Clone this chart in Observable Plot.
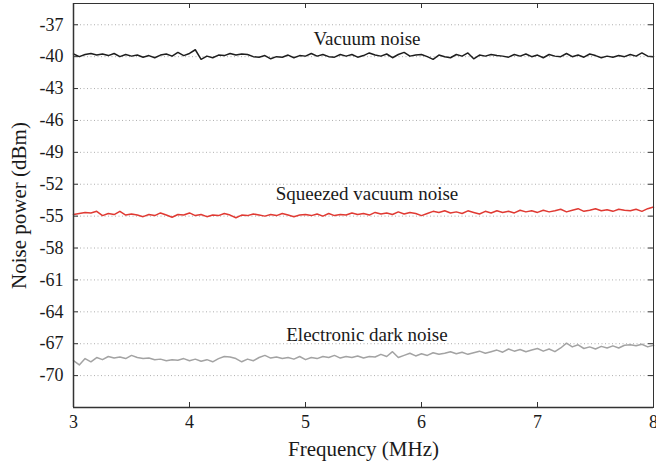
<!DOCTYPE html>
<html>
<head>
<meta charset="utf-8">
<script src="https://cdn.jsdelivr.net/npm/d3@7"></script>
<script src="https://cdn.jsdelivr.net/npm/@observablehq/plot@0.6"></script>
</head>
<body style="margin:0;padding:0;background:#fff">
<div id="chart" style="width:656px;height:468px"></div>
<script>
const freqStart = 3.0;
const freqStep = 0.05;

const vacuumNoise = [
  -39.75, -40.0, -39.8, -39.7, -39.85, -39.75, -39.9, -39.7, -40.0, -39.8,
  -39.95, -39.85, -40.05, -39.9, -40.1, -39.85, -39.75, -39.95, -39.6, -39.9,
  -39.7, -39.35, -40.25, -39.95, -40.1, -39.85, -39.9, -39.7, -39.85, -39.75,
  -39.8, -40.0, -40.05, -39.9, -40.2, -40.0, -40.05, -39.85, -40.1, -39.9,
  -39.95, -39.7, -39.95, -39.8, -40.0, -40.05, -39.8, -39.95, -39.8, -40.05,
  -39.9, -39.65, -39.85, -39.95, -39.75, -40.1, -39.8, -39.6, -39.95, -39.85,
  -39.8, -40.0, -40.25, -39.85, -40.0, -40.1, -39.8, -39.95, -39.65, -40.2,
  -39.85, -39.95, -39.8, -39.9, -39.95, -40.05, -39.8, -39.95, -39.75, -40.0,
  -39.85, -40.1, -39.8, -39.95, -40.0, -39.7, -40.0, -39.85, -40.05, -39.75,
  -39.9, -40.1, -39.95, -40.05, -39.9, -40.0, -39.8, -39.95, -39.65, -39.95,
  -40.0
];

const squeezedNoise = [
  -54.85, -54.75, -54.65, -54.7, -54.55, -54.95, -54.75, -54.85, -54.55, -54.9,
  -54.8, -54.9, -55.05, -54.85, -54.95, -54.7, -54.9, -55.1, -54.85, -54.9,
  -54.7, -54.95, -54.85, -55.05, -54.9, -54.95, -54.75, -54.9, -55.15, -54.9,
  -54.95, -54.8, -54.9, -55.0, -54.85, -54.95, -54.75, -54.9, -55.05, -54.9,
  -54.85, -54.95, -54.8, -55.0, -54.75, -54.95, -54.85, -54.9, -54.7, -54.85,
  -54.75, -54.9, -54.65, -54.8, -54.7, -54.85, -54.6, -54.8, -54.65, -54.75,
  -54.95, -54.75, -54.55, -54.65, -54.5, -54.7, -54.6, -54.75, -54.5, -54.65,
  -54.8, -54.55, -54.7, -54.5, -54.65, -54.55, -54.7, -54.45, -54.6, -54.5,
  -54.65, -54.45, -54.6, -54.5, -54.35, -54.6, -54.45, -54.3, -54.55, -54.45,
  -54.3, -54.5, -54.4, -54.55, -54.35, -54.45, -54.5, -54.35, -54.55, -54.3,
  -54.15
];

const electronicNoise = [
  -68.6, -69.0, -68.4, -68.7, -68.3, -68.5, -68.2, -68.35, -68.25, -68.4,
  -68.1, -68.3, -68.4, -68.35, -68.5, -68.45, -68.6, -68.5, -68.55, -68.4,
  -68.6, -68.45, -68.65, -68.5, -68.7, -68.4, -68.2, -68.25, -68.4, -68.7,
  -68.45, -68.6, -68.3, -68.1, -68.35, -68.25, -68.4, -68.3, -68.45, -68.2,
  -68.5, -68.3, -68.4, -68.2, -68.3, -68.1, -68.35, -68.2, -68.3, -68.15,
  -68.35, -68.2, -68.25, -68.0, -68.2, -67.75, -68.3, -68.1, -67.9, -68.15,
  -67.95, -68.1, -67.85, -68.0, -67.9, -67.75, -67.95, -67.8, -68.0, -67.85,
  -67.7, -67.9, -67.75, -67.6, -67.8, -67.5, -67.7, -67.55, -67.75, -67.6,
  -67.45, -67.7, -67.5, -67.75, -67.4, -66.95, -67.3, -67.1, -67.45, -67.3,
  -67.5, -67.25, -67.4, -67.2, -67.4, -67.15, -67.1, -67.2, -67.05, -67.3,
  -67.15
];

const xTicks = [3, 4, 5, 6, 7, 8];
const yTicks = [-37, -40, -43, -46, -49, -52, -55, -58, -61, -64, -67, -70];

const seriesNames = ["Vacuum noise", "Squeezed vacuum noise", "Electronic dark noise"];
const seriesColors = ["#1e1e1e", "#e03a33", "#a3a3a3"];
const seriesValues = [vacuumNoise, squeezedNoise, electronicNoise];

const labelNames = ["Vacuum noise", "Squeezed vacuum noise", "Electronic dark noise"];
const labelFreq = [5.53, 5.53, 5.53];
const labelPower = [-38.3, -52.9, -66.2];

const rows = seriesValues.flatMap((vals, s) =>
  vals.map((v, i) => ({ series: seriesNames[s], f: freqStart + i * freqStep, p: v }))
);
const labels = labelNames.map((t, i) => ({ text: t, f: labelFreq[i], p: labelPower[i] }));

const W = 656, H = 468;
const mL = 73, mR = 3, mT = 3, mB = 61;
const innerW = W - mL - mR, innerH = H - mT - mB;
const tickLen = 5;
const serif = "Liberation Serif";

const chart = Plot.plot({
  width: W,
  height: H,
  marginLeft: mL,
  marginRight: mR,
  marginTop: mT,
  marginBottom: mB,
  style: { fontFamily: serif, fontSize: "18px", color: "#1a1a1a", background: "#fff", overflow: "visible" },
  x: { domain: [3, 8] },
  y: { domain: [-73, -35] },
  color: { domain: seriesNames, range: seriesColors },
  marks: [
    Plot.gridY(yTicks, { stroke: "#9a9a9a", strokeOpacity: 1, strokeWidth: 0.8, strokeDasharray: "1,2.5" }),
    Plot.line(rows, { x: "f", y: "p", z: "series", stroke: "series", strokeWidth: 1.5, curve: "linear" }),
    Plot.text(labels, { x: "f", y: "p", text: "text", fontSize: 19, fill: "#1a1a1a", fontFamily: serif }),
    Plot.tickY(yTicks, { y: d => d, insetRight: innerW - tickLen, stroke: "#333" }),
    Plot.tickY(yTicks, { y: d => d, insetLeft: innerW - tickLen, stroke: "#333" }),
    Plot.tickX(xTicks, { x: d => d, insetTop: innerH - tickLen, stroke: "#333" }),
    Plot.tickX(xTicks, { x: d => d, insetBottom: innerH - tickLen, stroke: "#333" }),
    Plot.frame({ stroke: "#333", strokeWidth: 1 }),
    Plot.ruleX([3], { stroke: "#333", strokeWidth: 1.5 }),
    Plot.ruleY([-73], { stroke: "#333", strokeWidth: 1.5 }),
    Plot.axisY(yTicks, {
      anchor: "left", tickSize: 0, tickPadding: 10, tickFormat: d => String(d), fontFamily: serif,
      label: "Noise power (dBm)", labelAnchor: "center", labelArrow: "none", labelOffset: 62, fontSize: 18
    }),
    Plot.axisX(xTicks, {
      anchor: "bottom", tickSize: 0, tickPadding: 8, tickFormat: d => String(d), fontFamily: serif,
      label: "Frequency (MHz)", labelAnchor: "center", labelArrow: "none", labelOffset: 48, fontSize: 18
    })
  ]
});

// Force serif everywhere: strip Plot's scoped class and inject an SVG-local style.
chart.removeAttribute("class");
chart.querySelectorAll("style").forEach(s => s.remove());
const ns = "http://www.w3.org/2000/svg";
const st = document.createElementNS(ns, "style");
st.textContent = "text, tspan { font-family: 'Liberation Serif' !important; white-space: pre; }";
chart.insertBefore(st, chart.firstChild);
chart.setAttribute("font-family", serif);
chart.querySelectorAll("g[font-family]").forEach(g => g.setAttribute("font-family", serif));
chart.querySelectorAll("text").forEach(t => {
  t.setAttribute("font-family", serif);
  t.style.setProperty("font-family", "'Liberation Serif'", "important");
});
chart.querySelectorAll("[aria-label='y-axis label'] text, [aria-label='x-axis label'] text").forEach(t => {
  t.setAttribute("font-size", "21");
});
document.getElementById("chart").appendChild(chart);
</script>
</body>
</html>
